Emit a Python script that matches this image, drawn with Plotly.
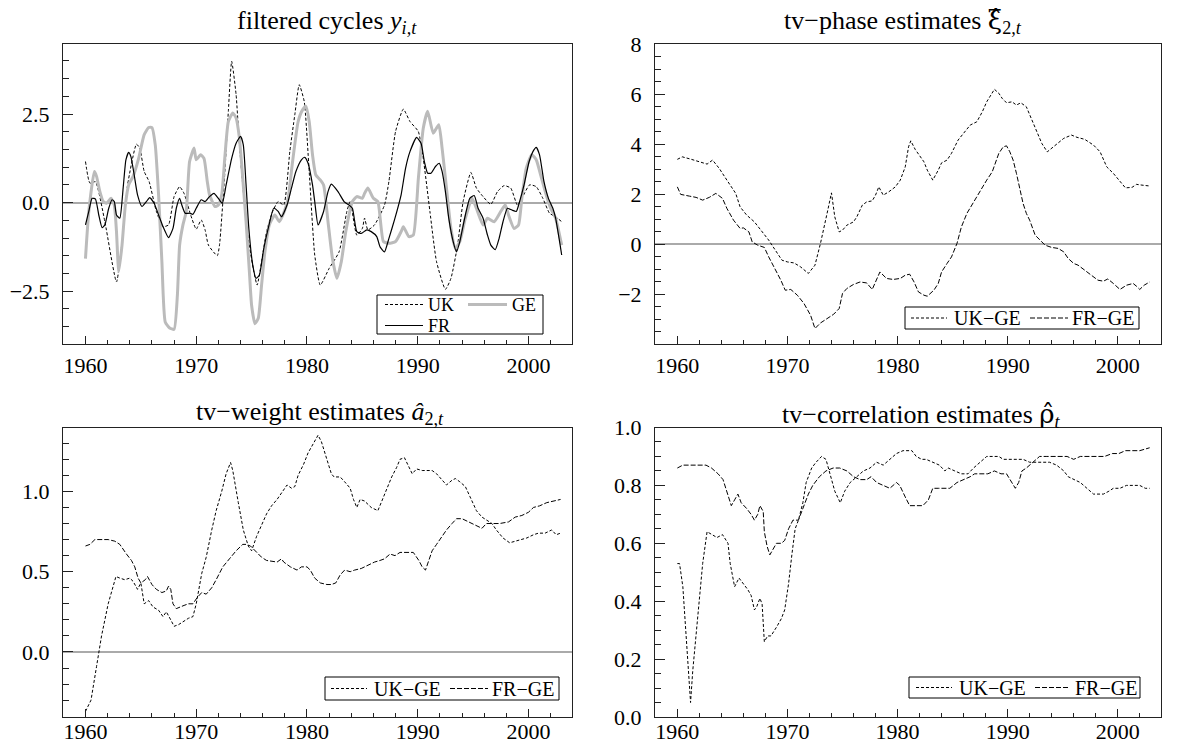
import plotly.graph_objects as go

# ---------------- data ----------------
# filtered cycles
uk_t = [1960.0,1960.4,1960.9,1961.75,1962.8,1963.4,1963.8,1964.6,1964.9,1965.3,1965.75,1966.4,1967.0,1967.5,1968.0,1968.5,1968.9,1969.5,1970.0,1970.45,1970.8,1971.1,1971.9,1972.1,1972.55,1972.9,1973.2,1973.6,1973.9,1974.2,1974.6,1975.2,1975.5,1975.9,1976.35,1976.9,1977.4,1977.9,1978.45,1978.9,1979.3,1979.75,1980.2,1980.7,1981.2,1982.0,1982.9,1983.6,1983.9,1984.5,1985.0,1985.2,1985.5,1986.1,1987.0,1987.4,1988.0,1988.7,1989.3,1990.05,1990.5,1991.1,1991.7,1992.5,1993.0,1993.6,1994.1,1994.8,1995.3,1995.9,1996.6,1997.2,1997.8,1998.4,1999.0,1999.4,2000.1,2000.7,2001.3,2001.9,2002.45,2003.0]
uk_y = [1.16,0.55,0.59,-0.54,-2.24,-0.82,0.50,1.65,1.54,0.88,0.59,-0.25,-0.68,-0.63,0.17,0.45,0.26,-0.35,-0.75,-0.49,-0.77,-1.20,-1.50,-1.20,0.69,2.58,3.99,3.05,1.63,0.50,-0.82,-1.95,-2.33,-1.67,-0.82,-0.25,0.03,-0.07,1.44,2.48,3.33,2.86,0.88,-1.48,-2.33,-1.86,-1.39,-0.25,0.03,-0.92,-0.73,-0.44,-0.77,-0.63,-0.07,0.60,2.01,2.64,2.29,2.01,1.25,-0.25,-1.67,-2.45,-2.14,-1.20,0.03,0.85,0.41,0.17,-0.05,0.31,0.48,0.41,-0.07,0.12,0.50,0.45,0.12,-0.30,-0.40,-0.54]

ge_t = [1960.0,1960.3,1960.8,1961.0,1961.3,1961.6,1961.9,1962.3,1962.6,1962.8,1963.0,1963.3,1963.6,1963.9,1964.3,1964.8,1965.3,1965.7,1966.0,1966.3,1966.6,1966.9,1967.2,1967.6,1968.0,1968.3,1968.5,1968.8,1969.1,1969.4,1969.8,1970.0,1970.4,1970.7,1971.0,1971.2,1971.7,1972.0,1972.3,1972.6,1972.9,1973.3,1973.6,1973.9,1974.2,1974.5,1974.8,1975.0,1975.3,1975.6,1975.9,1976.2,1976.6,1977.1,1977.5,1978.0,1978.3,1978.7,1979.2,1979.6,1979.9,1980.2,1980.5,1980.8,1981.2,1981.5,1981.9,1982.3,1982.7,1983.1,1983.5,1984.1,1984.5,1985.0,1985.2,1985.5,1986.0,1986.4,1986.9,1987.4,1988.0,1988.5,1988.7,1989.2,1989.6,1990.06,1990.5,1990.9,1991.4,1991.9,1992.2,1992.5,1993.0,1993.4,1993.8,1994.3,1994.9,1995.3,1995.9,1996.3,1996.9,1997.5,1997.9,1998.2,1998.7,1999.1,1999.4,1999.8,2000.3,2000.7,2001.1,2001.6,2002.0,2002.45,2003.0]
ge_y = [-1.58,-0.25,0.88,0.74,0.31,0.03,-0.02,0.12,-0.07,-0.82,-1.95,-1.20,-0.07,0.50,0.74,1.25,1.92,2.12,2.12,1.63,0.22,-1.67,-3.37,-3.54,-3.58,-2.61,-1.20,-0.63,-0.25,1.16,1.54,1.21,1.35,1.25,0.59,0.22,-0.11,-0.07,0.22,1.35,2.29,2.53,2.39,1.82,0.69,-0.54,-1.95,-2.90,-3.42,-3.27,-2.33,-1.39,-0.63,-0.35,-0.54,-0.21,0.12,1.16,2.29,2.62,2.72,2.29,1.35,0.78,0.64,0.50,-0.54,-1.58,-2.14,-1.67,-0.82,0.03,0.17,0.12,0.26,0.41,0.12,0.03,-1.10,-1.15,-1.10,-0.82,-0.68,-0.96,-0.92,0.69,2.10,2.58,1.96,2.20,1.54,0.69,-0.73,-1.29,-1.10,-0.44,0.12,-0.16,-0.63,-0.44,-0.54,-0.25,-0.07,-0.35,-0.73,-0.63,0.12,0.97,1.35,1.21,0.78,0.22,-0.16,-0.44,-1.20]

fr_t = [1960.0,1960.3,1960.6,1960.9,1961.2,1961.5,1961.75,1962.1,1962.4,1962.6,1962.8,1963.1,1963.4,1963.65,1963.9,1964.1,1964.4,1964.7,1965.1,1965.5,1965.8,1966.2,1966.6,1967.0,1967.5,1967.9,1968.2,1968.5,1968.7,1969.0,1969.4,1969.7,1970.0,1970.45,1970.8,1971.2,1971.6,1972.0,1972.35,1972.7,1973.2,1973.6,1974.0,1974.25,1974.5,1974.75,1975.1,1975.4,1975.7,1976.1,1976.5,1977.0,1977.4,1977.7,1978.2,1978.6,1979.0,1979.5,1979.8,1980.1,1980.5,1980.7,1981.0,1981.5,1981.9,1982.2,1982.8,1983.35,1983.8,1984.1,1984.5,1984.9,1985.4,1985.8,1986.3,1986.6,1987.0,1987.4,1987.9,1988.5,1988.9,1989.3,1989.9,1990.3,1990.6,1990.9,1991.2,1991.6,1991.95,1992.2,1992.5,1992.8,1993.2,1993.5,1993.8,1994.3,1994.7,1995.1,1995.45,1995.9,1996.3,1996.6,1997.0,1997.35,1997.7,1998.1,1998.5,1998.9,1999.2,1999.6,2000.06,2000.4,2000.7,2001.0,2001.4,2001.8,2002.2,2002.45,2003.0]
fr_y = [-0.63,-0.25,0.12,0.10,-0.35,-0.71,-0.63,-0.16,0.08,0.03,-0.35,-0.44,0.41,1.21,1.42,1.30,0.78,0.22,-0.11,0.03,0.14,-0.02,-0.35,-0.68,-0.99,-0.73,-0.16,0.12,-0.07,-0.30,-0.30,-0.33,-0.16,0.08,0.03,0.17,0.26,0.12,-0.02,0.50,1.25,1.68,1.87,1.63,0.50,-0.73,-1.76,-2.14,-2.05,-1.29,-0.73,-0.16,-0.25,-0.40,-0.07,0.41,0.88,1.21,1.28,1.11,0.50,0.03,-0.63,-0.25,0.31,0.52,0.31,0.03,-0.07,-0.16,-0.82,-0.87,-0.77,-0.82,-0.96,-1.25,-1.39,-1.01,-0.49,0.22,0.97,1.44,1.84,1.68,1.16,0.83,0.83,1.02,1.11,0.88,0.31,-0.44,-1.10,-1.39,-1.10,-0.35,0.12,0.20,-0.16,-0.44,-0.92,-1.20,-1.33,-1.01,-0.54,-0.16,-0.21,-0.25,0.03,0.50,1.16,1.44,1.56,1.35,0.59,0.12,-0.16,-0.44,-1.48]

# tv-phase estimates
ph_uk_t = [1960.0,1960.45,1961.2,1962.1,1962.7,1963.2,1963.8,1964.5,1965.3,1965.7,1966.3,1967.0,1967.6,1968.3,1968.9,1969.5,1970.0,1970.6,1971.2,1971.9,1972.5,1973.0,1973.6,1974.0,1974.3,1974.7,1975.0,1975.4,1976.0,1976.3,1976.8,1977.2,1977.7,1978.0,1978.3,1978.7,1979.2,1979.8,1980.25,1980.7,1981.0,1981.2,1981.6,1982.4,1982.7,1983.2,1983.7,1984.0,1984.5,1984.9,1985.5,1986.1,1986.6,1987.2,1987.7,1988.1,1988.6,1988.8,1989.2,1989.5,1989.9,1990.4,1990.8,1991.2,1991.7,1992.2,1992.6,1993.1,1993.6,1994.0,1994.5,1995.1,1995.8,1996.3,1997.0,1997.8,1998.4,1999.0,1999.6,2000.2,2000.7,2001.3,2001.7,2002.2,2002.8]
ph_uk_y = [3.39,3.49,3.40,3.29,3.20,3.36,3.03,2.56,2.03,1.49,1.16,0.89,0.56,0.16,-0.24,-0.64,-0.71,-0.75,-0.91,-1.17,-0.84,0.03,1.23,2.05,1.09,0.49,0.56,0.76,0.89,1.09,1.56,1.69,1.73,1.96,2.29,1.96,2.09,2.29,2.56,3.09,3.89,4.13,3.79,3.29,2.96,2.56,2.96,3.25,3.36,3.63,4.16,4.49,4.76,4.89,5.29,5.69,6.03,6.19,6.03,5.83,5.65,5.69,5.56,5.65,5.49,4.96,4.56,4.03,3.69,3.83,4.03,4.23,4.36,4.27,4.19,3.96,3.69,3.09,2.83,2.49,2.25,2.27,2.39,2.36,2.33]

ph_fr_t = [1960.0,1960.3,1961.1,1961.7,1962.3,1962.9,1963.5,1964.1,1964.5,1965.1,1965.7,1966.0,1966.5,1966.8,1967.3,1967.9,1968.3,1968.8,1969.4,1969.8,1970.3,1970.9,1971.5,1972.1,1972.5,1973.0,1973.6,1974.2,1974.7,1975.0,1975.4,1976.0,1976.6,1977.2,1977.7,1978.0,1978.4,1979.0,1979.6,1980.25,1980.7,1981.1,1981.5,1981.9,1982.4,1982.7,1983.3,1983.7,1984.0,1984.5,1984.9,1985.4,1985.8,1986.3,1986.75,1987.2,1987.7,1988.1,1988.6,1988.9,1989.2,1989.6,1989.9,1990.2,1990.5,1990.8,1991.1,1991.4,1991.7,1992.0,1992.5,1992.95,1993.4,1994.0,1994.6,1995.1,1995.5,1996.0,1996.4,1997.0,1997.6,1998.2,1998.7,1999.1,1999.6,2000.2,2000.8,2001.4,2001.7,2002.0,2002.4,2002.9]
ph_fr_y = [2.29,1.99,1.92,1.87,1.76,1.87,2.03,1.83,1.43,0.96,0.63,0.65,0.49,0.09,-0.04,-0.13,-0.51,-0.91,-1.44,-1.84,-1.81,-2.04,-2.37,-2.84,-3.37,-3.15,-2.97,-2.80,-2.57,-1.97,-1.77,-1.61,-1.51,-1.55,-1.81,-1.51,-1.11,-1.37,-1.41,-1.37,-1.24,-1.20,-1.51,-1.91,-2.04,-2.08,-1.84,-1.57,-1.11,-0.77,-0.51,0.03,0.69,1.23,1.56,1.89,2.29,2.56,2.89,3.23,3.63,3.89,3.93,3.69,3.36,2.83,2.29,1.63,1.23,0.96,0.36,0.16,-0.04,-0.13,-0.17,-0.31,-0.57,-0.77,-0.84,-1.04,-1.24,-1.44,-1.48,-1.39,-1.57,-1.81,-1.64,-1.57,-1.68,-1.81,-1.64,-1.51]

# tv-weight estimates
w_uk_t = [1960.0,1960.5,1961.0,1961.45,1962.05,1962.75,1963.1,1963.55,1964.0,1964.3,1964.7,1965.0,1965.3,1965.7,1966.1,1966.6,1967.0,1967.3,1967.7,1968.0,1968.4,1968.8,1969.3,1969.7,1970.0,1970.5,1970.9,1971.4,1971.8,1972.3,1972.7,1973.1,1973.3,1973.8,1974.25,1974.7,1975.0,1975.45,1975.9,1976.35,1976.8,1977.3,1977.7,1978.2,1978.6,1978.9,1979.2,1979.7,1980.1,1980.6,1981.0,1981.3,1981.8,1982.2,1982.45,1983.0,1983.4,1983.9,1984.2,1984.5,1984.8,1985.2,1985.8,1986.4,1986.7,1987.2,1987.65,1988.1,1988.4,1988.8,1989.2,1989.5,1989.9,1990.4,1990.8,1991.3,1991.7,1992.2,1992.6,1993.1,1993.4,1993.8,1994.3,1994.7,1995.3,1995.8,1996.2,1996.7,1997.1,1997.7,1998.3,1998.8,1999.2,1999.85,2000.45,2000.9,2001.5,2002.1,2002.5,2002.9]
w_uk_y = [-0.37,-0.30,-0.09,0.10,0.30,0.47,0.46,0.45,0.46,0.44,0.39,0.43,0.30,0.32,0.28,0.26,0.22,0.25,0.20,0.16,0.17,0.19,0.21,0.22,0.30,0.49,0.59,0.76,0.88,1.00,1.11,1.18,1.13,0.93,0.76,0.66,0.63,0.72,0.79,0.86,0.91,0.95,0.99,1.04,1.02,1.03,1.10,1.17,1.24,1.30,1.35,1.31,1.20,1.11,1.09,1.09,1.06,1.02,0.95,0.90,0.95,0.94,0.90,0.88,0.93,1.02,1.09,1.15,1.20,1.21,1.15,1.11,1.14,1.13,1.13,1.13,1.11,1.07,1.04,1.07,1.08,1.06,1.03,0.97,0.88,0.84,0.82,0.80,0.76,0.71,0.68,0.69,0.70,0.71,0.73,0.74,0.74,0.76,0.73,0.74]

w_fr_t = [1960.0,1960.4,1960.85,1961.45,1962.05,1962.65,1963.1,1963.7,1964.15,1964.45,1964.75,1965.0,1965.4,1965.6,1966.0,1966.4,1966.9,1967.3,1967.5,1967.7,1967.9,1968.2,1968.5,1968.9,1969.3,1969.7,1970.1,1970.5,1970.9,1971.4,1971.8,1972.4,1973.0,1973.6,1974.2,1974.5,1974.9,1975.45,1975.9,1976.35,1977.0,1977.3,1977.7,1977.9,1978.5,1979.1,1979.5,1980.0,1980.3,1980.7,1981.2,1981.8,1982.2,1982.6,1983.0,1983.4,1983.9,1984.3,1984.9,1985.5,1986.1,1986.6,1987.0,1987.5,1987.95,1988.4,1989.0,1989.6,1990.1,1990.4,1990.7,1991.0,1991.3,1991.7,1992.2,1992.6,1993.1,1993.5,1994.0,1994.6,1995.2,1995.8,1996.2,1996.8,1997.4,1998.2,1998.8,1999.4,2000.0,2000.45,2001.0,2001.65,2002.3,2002.9]
w_fr_y = [0.66,0.67,0.70,0.70,0.70,0.69,0.67,0.61,0.57,0.53,0.46,0.43,0.45,0.47,0.42,0.39,0.37,0.38,0.41,0.39,0.30,0.27,0.28,0.29,0.30,0.30,0.34,0.37,0.36,0.40,0.45,0.53,0.58,0.63,0.67,0.67,0.66,0.62,0.59,0.57,0.56,0.56,0.58,0.56,0.53,0.51,0.53,0.53,0.51,0.46,0.43,0.42,0.42,0.43,0.48,0.51,0.50,0.51,0.52,0.54,0.56,0.57,0.58,0.61,0.60,0.62,0.62,0.62,0.57,0.53,0.51,0.57,0.63,0.67,0.72,0.76,0.80,0.83,0.83,0.81,0.79,0.77,0.80,0.80,0.80,0.81,0.84,0.85,0.87,0.90,0.91,0.93,0.94,0.95]

# tv-correlation estimates
c_uk_t = [1960.0,1960.2,1960.5,1960.8,1961.2,1961.4,1961.9,1962.3,1962.7,1963.2,1963.6,1964.1,1964.6,1964.8,1965.2,1965.6,1966.0,1966.4,1966.7,1967.0,1967.2,1967.5,1967.7,1967.9,1968.2,1968.5,1969.0,1969.45,1969.75,1970.1,1970.4,1970.7,1971.0,1971.4,1971.7,1972.2,1972.6,1973.1,1973.5,1973.85,1974.3,1974.8,1975.2,1975.7,1976.3,1976.9,1977.5,1978.1,1978.7,1979.3,1979.9,1980.5,1981.0,1981.3,1981.7,1982.2,1982.6,1983.2,1983.8,1984.3,1984.6,1985.2,1985.8,1986.4,1986.9,1987.5,1988.1,1988.7,1989.2,1989.6,1990.2,1990.8,1991.4,1992.0,1992.5,1992.9,1993.4,1993.8,1994.45,1995.1,1995.5,1996.0,1996.6,1997.2,1997.8,1998.3,1998.7,1999.2,1999.6,2000.2,2000.8,2001.4,2002.0,2002.5,2002.9]
c_uk_y = [0.53,0.53,0.45,0.28,0.05,0.16,0.37,0.53,0.64,0.63,0.62,0.63,0.60,0.53,0.45,0.48,0.46,0.44,0.42,0.37,0.38,0.41,0.39,0.26,0.28,0.28,0.31,0.34,0.37,0.46,0.56,0.65,0.68,0.74,0.81,0.86,0.88,0.90,0.89,0.84,0.78,0.74,0.78,0.81,0.83,0.85,0.86,0.88,0.87,0.89,0.91,0.92,0.92,0.92,0.90,0.89,0.89,0.88,0.87,0.85,0.86,0.85,0.84,0.84,0.86,0.88,0.90,0.90,0.90,0.89,0.89,0.89,0.89,0.88,0.88,0.88,0.88,0.88,0.87,0.85,0.83,0.82,0.81,0.79,0.77,0.77,0.77,0.78,0.79,0.79,0.80,0.80,0.80,0.79,0.79]

c_fr_t = [1960.0,1960.5,1961.1,1961.9,1962.6,1963.1,1963.7,1964.15,1964.5,1964.9,1965.2,1965.5,1965.8,1966.3,1966.7,1967.0,1967.3,1967.5,1967.8,1967.9,1968.15,1968.4,1968.7,1969.0,1969.45,1969.75,1970.1,1970.5,1971.0,1971.4,1971.9,1972.3,1972.9,1973.5,1974.15,1974.75,1975.4,1976.0,1976.6,1977.2,1977.6,1978.1,1978.7,1979.3,1979.9,1980.2,1980.7,1981.1,1981.7,1982.3,1982.8,1983.2,1983.7,1984.15,1984.75,1985.4,1986.0,1986.6,1987.0,1987.6,1988.2,1988.8,1989.4,1989.9,1990.4,1990.7,1991.0,1991.3,1991.7,1992.3,1992.9,1993.5,1994.2,1994.8,1995.4,1996.0,1996.6,1997.3,1998.1,1998.8,1999.5,2000.1,2000.7,2001.3,2002.0,2002.9]
c_fr_y = [0.86,0.87,0.87,0.87,0.87,0.86,0.84,0.82,0.78,0.73,0.75,0.77,0.74,0.72,0.70,0.68,0.70,0.73,0.71,0.64,0.59,0.56,0.58,0.60,0.60,0.61,0.65,0.68,0.68,0.72,0.77,0.80,0.83,0.85,0.86,0.86,0.85,0.83,0.82,0.82,0.83,0.81,0.80,0.79,0.81,0.80,0.76,0.73,0.73,0.73,0.75,0.79,0.79,0.79,0.79,0.81,0.82,0.83,0.84,0.84,0.84,0.85,0.84,0.84,0.81,0.79,0.81,0.85,0.86,0.88,0.90,0.90,0.90,0.90,0.90,0.89,0.90,0.90,0.90,0.90,0.91,0.91,0.92,0.92,0.92,0.93]

x_ticks = [1960, 1970, 1980, 1990, 2000]

HAT = '<span style="font-family:DejaVu Serif">'
titles = [
    "filtered cycles <i>y</i><sub><i>i,t</i></sub>",
    "tv\u2212phase estimates " + HAT + "\u03be\u0302</span><sub>2,<i>t</i></sub>",
    "tv\u2212weight estimates <i>\u00e2</i><sub>2,<i>t</i></sub>",
    "tv\u2212correlation estimates " + HAT + "\u03c1\u0302</span><sub><i>t</i></sub>",
]

# ---------------- styles ----------------
W, H = 1185, 745
FONT = "Liberation Serif, Times New Roman, serif"
AX = "#222222"
GREY_LINE = "#bbbbbb"
ZERO = "#aaaaaa"
UK_DASH = "3px,2px"
FR_DASH = "5px,2px"
TICK_SIZE = 22

def px(x):
    return x / W

def py(y):
    return 1 - y / H

fig = go.Figure()

# top-left
fig.add_trace(go.Scatter(x=uk_t, y=uk_y, mode="lines", name="UK", xaxis="x", yaxis="y",
                         line=dict(color="black", width=1, dash=UK_DASH, shape="spline", smoothing=0.5)))
fig.add_trace(go.Scatter(x=ge_t, y=ge_y, mode="lines", name="GE", xaxis="x", yaxis="y",
                         line=dict(color=GREY_LINE, width=3, shape="spline", smoothing=0.5)))
fig.add_trace(go.Scatter(x=fr_t, y=fr_y, mode="lines", name="FR", xaxis="x", yaxis="y",
                         line=dict(color="black", width=1.2, shape="spline", smoothing=0.5)))
# top-right
fig.add_trace(go.Scatter(x=ph_uk_t, y=ph_uk_y, mode="lines", name="UK\u2212GE", xaxis="x2", yaxis="y2",
                         line=dict(color="black", width=1, dash=UK_DASH)))
fig.add_trace(go.Scatter(x=ph_fr_t, y=ph_fr_y, mode="lines", name="FR\u2212GE", xaxis="x2", yaxis="y2",
                         line=dict(color="black", width=1, dash=FR_DASH)))
# bottom-left
fig.add_trace(go.Scatter(x=w_uk_t, y=w_uk_y, mode="lines", name="UK\u2212GE", xaxis="x3", yaxis="y3",
                         line=dict(color="black", width=1, dash=UK_DASH)))
fig.add_trace(go.Scatter(x=w_fr_t, y=w_fr_y, mode="lines", name="FR\u2212GE", xaxis="x3", yaxis="y3",
                         line=dict(color="black", width=1, dash=FR_DASH)))
# bottom-right
fig.add_trace(go.Scatter(x=c_uk_t, y=c_uk_y, mode="lines", name="UK\u2212GE", xaxis="x4", yaxis="y4",
                         line=dict(color="black", width=1, dash=UK_DASH)))
fig.add_trace(go.Scatter(x=c_fr_t, y=c_fr_y, mode="lines", name="FR\u2212GE", xaxis="x4", yaxis="y4",
                         line=dict(color="black", width=1, dash=FR_DASH)))

xdom_l = [px(63), px(572)]
xdom_r = [px(655), px(1161)]
ydom_t = [py(343.5), py(44)]
ydom_b = [py(717), py(427.5)]

def xaxis(domain, anchor, standoff):
    return dict(domain=domain, anchor=anchor, range=[1957.97, 2003.93], automargin=False,
                tickvals=x_ticks, ticks="inside", ticklen=8, tickwidth=1, tickcolor=AX,
                minor=dict(dtick=2, tick0=1960, ticks="inside", ticklen=4, tickwidth=1, tickcolor=AX),
                showline=True, linecolor=AX, linewidth=1, mirror=True,
                showgrid=False, zeroline=False, ticklabelstandoff=standoff,
                tickfont=dict(family=FONT, size=TICK_SIZE, color="black"))

def yaxis(domain, anchor, rng, tickvals, fmt, minor_dt, zero):
    return dict(domain=domain, anchor=anchor, range=rng, tickvals=tickvals, tickformat=fmt,
                automargin=False,
                ticks="inside", ticklen=10, tickwidth=1, tickcolor=AX,
                minor=dict(dtick=minor_dt, tick0=0, ticks="inside", ticklen=6, tickwidth=1, tickcolor=AX),
                showline=True, linecolor=AX, linewidth=1, mirror=True,
                showgrid=False, zeroline=zero, zerolinecolor=ZERO, zerolinewidth=1.5,
                ticklabelstandoff=8,
                tickfont=dict(family=FONT, size=TICK_SIZE, color="black"))

fig.update_layout(
    width=W, height=H, margin=dict(l=0, r=0, t=0, b=0, autoexpand=False),
    paper_bgcolor="white", plot_bgcolor="white", showlegend=False,
    font=dict(family=FONT, color="black"),
    xaxis=xaxis(xdom_l, "y", 2),
    yaxis=yaxis(ydom_t, "x", [-3.98, 4.48], [-2.5, 0, 2.5], ".1f", 0.5, True),
    xaxis2=xaxis(xdom_r, "y2", 2),
    yaxis2=yaxis(ydom_t, "x2", [-3.97, 8.0], [-2, 0, 2, 4, 6, 8], "d", 0.5, True),
    xaxis3=xaxis(xdom_l, "y3", -5),
    yaxis3=yaxis(ydom_b, "x3", [-0.405, 1.398], [0, 0.5, 1.0], ".1f", 0.1, True),
    xaxis4=xaxis(xdom_r, "y4", -5),
    yaxis4=yaxis(ydom_b, "x4", [0, 1.0], [0, 0.2, 0.4, 0.6, 0.8, 1.0], ".1f", 0.05, False),
)

# titles
title_pos = [(327, 22), (903, 21), (320, 413), (921, 415)]
for t, (tx, ty) in zip(titles, title_pos):
    fig.add_annotation(text=t, x=px(tx), y=py(ty), xref="paper", yref="paper",
                       xanchor="center", yanchor="middle", showarrow=False,
                       font=dict(family=FONT, size=26, color="black"))

# legends (box + samples + labels)
def legend_box(x0, y0, x1, y1):
    fig.add_shape(type="rect", xref="paper", yref="paper", x0=px(x0), x1=px(x1), y0=py(y1), y1=py(y0),
                  line=dict(color="black", width=1), fillcolor="white", layer="above")

def legend_item(sx0, sx1, y, tx, label, color, width, dash, size=20):
    fig.add_shape(type="line", xref="paper", yref="paper", x0=px(sx0), x1=px(sx1), y0=py(y), y1=py(y),
                  line=dict(color=color, width=width, dash=dash), layer="above")
    fig.add_annotation(text=label, x=px(tx), y=py(y), xref="paper", yref="paper",
                       xanchor="left", yanchor="middle", showarrow=False, borderpad=0,
                       font=dict(family=FONT, size=size, color="black"))

legend_box(377, 295, 543, 334)
legend_item(385, 423, 304.5, 427, "UK", "black", 1, UK_DASH, 18)
legend_item(468, 507, 304.5, 511, "GE", GREY_LINE, 3, "solid", 18)
legend_item(385, 423, 325.5, 427, "FR", "black", 1.2, "solid", 18)

legend_box(905, 307, 1139, 329)
legend_item(911, 947, 318, 953, "UK\u2212GE", "black", 1, UK_DASH)
legend_item(1030, 1068, 318, 1071, "FR\u2212GE", "black", 1, FR_DASH)

legend_box(325, 677, 559, 700)
legend_item(331, 367, 688.5, 373, "UK\u2212GE", "black", 1, UK_DASH)
legend_item(450, 488, 688.5, 491, "FR\u2212GE", "black", 1, FR_DASH)

legend_box(909, 677, 1140, 698)
legend_item(916, 952, 687.5, 958, "UK\u2212GE", "black", 1, UK_DASH)
legend_item(1035, 1070, 687.5, 1074, "FR\u2212GE", "black", 1, FR_DASH)

fig.write_html("out.html", config={"displayModeBar": False},
               post_script="document.body.style.margin='0';document.body.style.overflow='hidden';")
